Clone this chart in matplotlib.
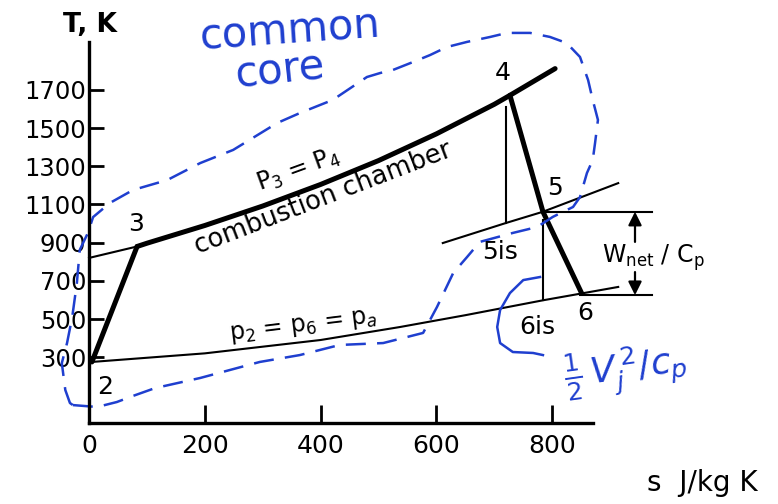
import matplotlib
matplotlib.use('Agg')
import matplotlib.pyplot as plt

# T-s diagram of a turbojet cycle (s in J/kgK, T in K)

# compression 2 -> 3
s_comp = [5, 83]
T_comp = [275, 880]

# isobar p3 = p4: thin up to state 3, thick combustion line after it
s_p3_lo = [0, 83]
T_p3_lo = [820, 880]
s_p3 = [83, 100, 200, 300, 400, 500, 600, 700, 727, 805]
T_p3 = [880, 897, 990, 1092, 1205, 1330, 1470, 1625, 1672, 1812]

# expansion 4 -> 5 -> 6
s_exp = [727, 784, 851]
T_exp = [1672, 1062, 634]

# isobar through state 5
s_p5 = [611, 720, 784, 914]
T_p5 = [898, 1003, 1062, 1212]

# isobar p2 = p6 = pa
s_pa = [5, 200, 400, 537, 650, 784, 851, 914]
T_pa = [275, 320, 390, 458, 520, 598, 634, 668]

# isentropic drops
s_5is = [720, 720]
T_5is = [1611, 1003]
s_6is = [784, 784]
T_6is = [1020, 598]

# net work bracket
T_wnet = [1062, 625]
s_wnet_start = [784, 848]
s_wnet_end = 972
s_arrow = 943
T_arrow_tail = [904, 746]

# hand-drawn "common core" boundary
loop_s = [-28, 14, 48, 76, 114, 192, 295, 364, 433, 508, 577, 601, 629, 653,
          675, 732, 774, 801, 836, 848, 860, 870, 874, 879, 870, 862, 848,
          825, 796, 762, 722, 693, 653, 618, 589, 560, 525, 503, 480, 421,
          364, 325, 249, 192, 135, 76, 36, 7, -2, -16, -21, -29, -38, -47,
          -41, -33, -28]
loop_T = [49, 39, 65, 97, 138, 191, 275, 311, 364, 374, 427, 563, 741, 825,
          904, 951, 982, 1035, 1087, 1139, 1265, 1333, 1422, 1543, 1648, 1752,
          1873, 1946, 1978, 1999, 1999, 1978, 1952, 1925, 1883, 1847, 1805,
          1789, 1768, 1648, 1579, 1527, 1386, 1317, 1228, 1176, 1108, 1034,
          951, 862, 689, 511, 374, 269, 128, 60, 49]

# hand-drawn hook pointing at the jet kinetic energy
hook_s = [779, 750, 727, 710, 705, 710, 732, 767, 784]
hook_T = [720, 704, 636, 547, 458, 374, 327, 322, 311]

yticks = [300, 500, 700, 900, 1100, 1300, 1500, 1700]
xticks = [0, 200, 400, 600, 800]

blue = '#1f3fcf'
thick = 3.6
thin = 1.5

fig = plt.figure(figsize=(7.78, 5.04), dpi=100)
ax = fig.add_axes([54.3 / 778, 0.1603, 613.7 / 778, 0.7937])
ax.set_xlim(-60, 1000)
ax.set_ylim(-46, 2050)

for side in ['top', 'right']:
    ax.spines[side].set_visible(False)
for side in ['left', 'bottom']:
    ax.spines[side].set_linewidth(2.4)
ax.spines['left'].set_position(('data', 0))
ax.spines['left'].set_bounds(-46, 1952)
ax.spines['bottom'].set_bounds(0, 870)

ax.set_yticks(yticks)
ax.set_xticks(xticks)
ax.tick_params(axis='y', direction='in', length=11, width=2, labelsize=17.5, pad=2)
ax.tick_params(axis='x', direction='in', length=13, width=2, labelsize=18, pad=8)

# cycle lines
ax.plot(s_p3_lo, T_p3_lo, color='k', lw=thin)
ax.plot(s_p3, T_p3, color='k', lw=thick, solid_capstyle='round')
ax.plot(s_comp, T_comp, color='k', lw=thick, solid_capstyle='round')
ax.plot(s_exp, T_exp, color='k', lw=thick, solid_capstyle='round')
ax.plot(s_p5, T_p5, color='k', lw=thin, clip_on=False)
ax.plot(s_pa, T_pa, color='k', lw=thin, clip_on=False)
ax.plot(s_5is, T_5is, color='k', lw=thin)
ax.plot(s_6is, T_6is, color='k', lw=thin)

for s0, T0 in zip(s_wnet_start, T_wnet):
    ax.plot([s0, s_wnet_end], [T0, T0], color='k', lw=thin)
for T_head, T_tail in zip(T_wnet, T_arrow_tail):
    ax.annotate('', xy=(s_arrow, T_head), xytext=(s_arrow, T_tail),
                arrowprops=dict(arrowstyle='-|>', color='k', lw=1.6,
                                mutation_scale=20, shrinkA=0, shrinkB=0))

# state labels
lab = dict(fontsize=18, ha='center', va='center')
ax.text(81, 998, '3', **lab)
ax.text(715, 1789, '4', **lab)
ax.text(805, 1186, '5', **lab)
ax.text(28, 144, '2', **lab)
ax.text(857, 531, '6', **lab)
ax.text(710, 851, '5is', **lab)
ax.text(774, 458, '6is', **lab)

ax.text(361, 1281, r'P$_3$ = P$_4$', fontsize=17, ha='center', va='center', rotation=20)
ax.text(405, 1134, 'combustion chamber', fontsize=18.5, ha='center', va='center', rotation=21)
ax.text(370, 463, r'p$_2$ = p$_6$ = p$_a$', fontsize=17, ha='center', va='center', rotation=7)
ax.text(886, 820, r'W$_{\rm net}$ / C$_{\rm p}$', fontsize=17, ha='left', va='center')

ax.text(2, 2041, 'T, K', fontsize=19, fontweight='bold', ha='center', va='center')
ax.text(1060, -359, 's  J/kg K', fontsize=20, ha='center', va='center')

# hand-written notes
ax.plot(loop_s, loop_T, color=blue, lw=1.8, ls=(0, (8, 4.5)), clip_on=False)
ax.plot(hook_s, hook_T, color=blue, lw=1.8, clip_on=False)
ax.text(347, 2010, 'common', color=blue, fontsize=30, ha='center', va='center', rotation=4)
ax.text(330, 1800, 'core', color=blue, fontsize=30, ha='center', va='center', rotation=6)
ax.text(926, 233, r'$\frac{1}{2}\,V_j^{\,2}/c_p$', color=blue, fontsize=26,
        ha='center', va='center', rotation=8)

fig.savefig('out.png', dpi=100)
